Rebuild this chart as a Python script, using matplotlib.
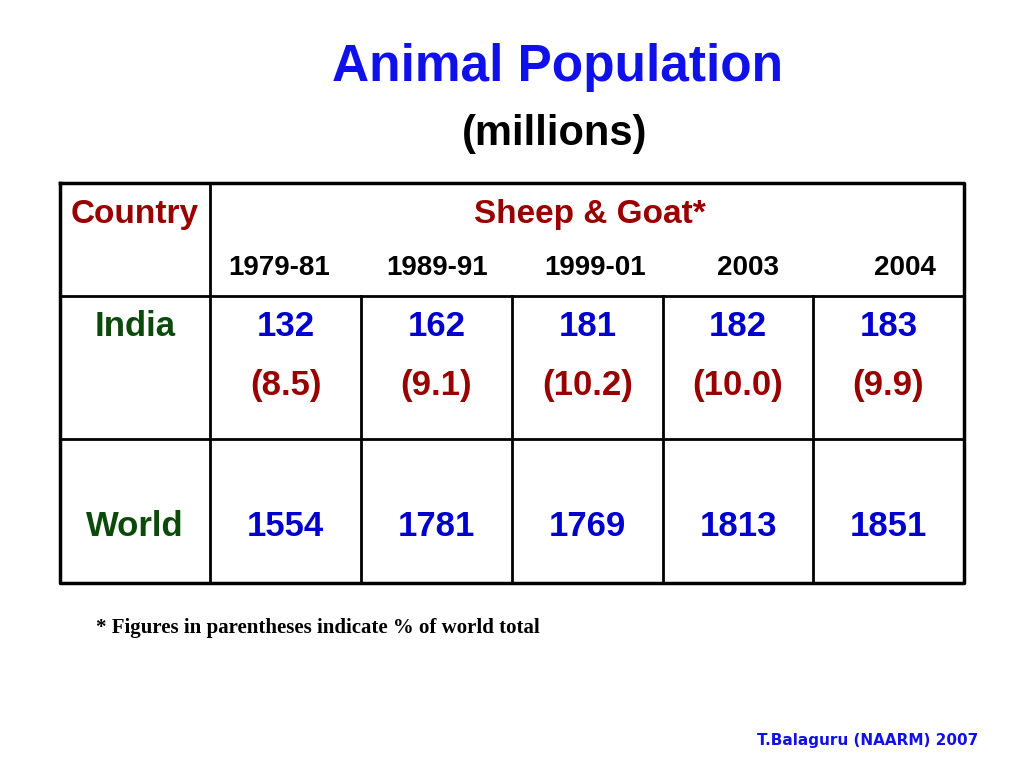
import matplotlib
matplotlib.use("Agg")
import matplotlib.pyplot as plt

years = ["1979-81", "1989-91", "1999-01", "2003", "2004"]
india = ["132", "162", "181", "182", "183"]
india_pct = ["(8.5)", "(9.1)", "(10.2)", "(10.0)", "(9.9)"]
world = ["1554", "1781", "1769", "1813", "1851"]

narrow = ["Liberation Sans Narrow", "Liberation Sans", "DejaVu Sans"]
blue = "#1010e8"
dred = "#990000"
green = "#0b4a0b"
nblue = "#0000cc"

fig = plt.figure(figsize=(10.24, 7.68), dpi=100)
ax = fig.add_axes([0, 0, 1, 1])
ax.set_xlim(0, 1024)
ax.set_ylim(768, 0)
ax.axis("off")

ax.text(558, 68, "Animal Population", ha="center", va="center", fontsize=37,
        color=blue, family=narrow, fontweight="bold")
ax.text(555, 134, "(millions)", ha="center", va="center", fontsize=30,
        color="black", family=narrow, fontweight="bold")

# table grid
left, right, top, bottom = 60, 964, 183, 583
row_lines = [296, 439]
col_lines = [210, 361, 512, 663, 813]
lw = 2
ax.plot([left, right, right, left, left], [top, top, bottom, bottom, top], color="black", lw=2.5)
for y in row_lines:
    ax.plot([left, right], [y, y], color="black", lw=lw)
ax.plot([col_lines[0], col_lines[0]], [top, bottom], color="black", lw=lw)
for x in col_lines[1:]:
    ax.plot([x, x], [row_lines[0], bottom], color="black", lw=lw)

centers = [(a + b) / 2 for a, b in zip(col_lines, col_lines[1:] + [right])]
year_x = [279, 437, 595, 748, 905]

ax.text(135, 215, "Country", ha="center", va="center", fontsize=24, color=dred,
        family=narrow, fontweight="bold")
ax.text(590, 215, "Sheep & Goat*", ha="center", va="center", fontsize=24, color=dred,
        family=narrow, fontweight="bold")
for x, yr in zip(year_x, years):
    ax.text(x, 268, yr, ha="center", va="center", fontsize=20, color="black",
            family=narrow, fontweight="bold")

ax.text(135, 327, "India", ha="center", va="center", fontsize=25, color=green,
        family=narrow, fontweight="bold")
ax.text(135, 527, "World", ha="center", va="center", fontsize=25, color=green,
        family=narrow, fontweight="bold")
for x, v, p, w in zip(centers, india, india_pct, world):
    ax.text(x, 327, v, ha="center", va="center", fontsize=25, color=nblue,
            family=narrow, fontweight="bold")
    ax.text(x, 386, p, ha="center", va="center", fontsize=25, color=dred,
            family=narrow, fontweight="bold")
    ax.text(x, 527, w, ha="center", va="center", fontsize=25, color=nblue,
            family=narrow, fontweight="bold")

ax.text(96, 628, "* Figures in parentheses indicate % of world total", ha="left",
        va="center", fontsize=15, color="black", family=["Liberation Serif", "DejaVu Serif"],
        fontweight="bold")
ax.text(978, 741, "T.Balaguru (NAARM) 2007", ha="right", va="center", fontsize=11,
        color=blue, family=["DejaVu Sans"], fontweight="bold")

fig.savefig("out.png", dpi=100)
